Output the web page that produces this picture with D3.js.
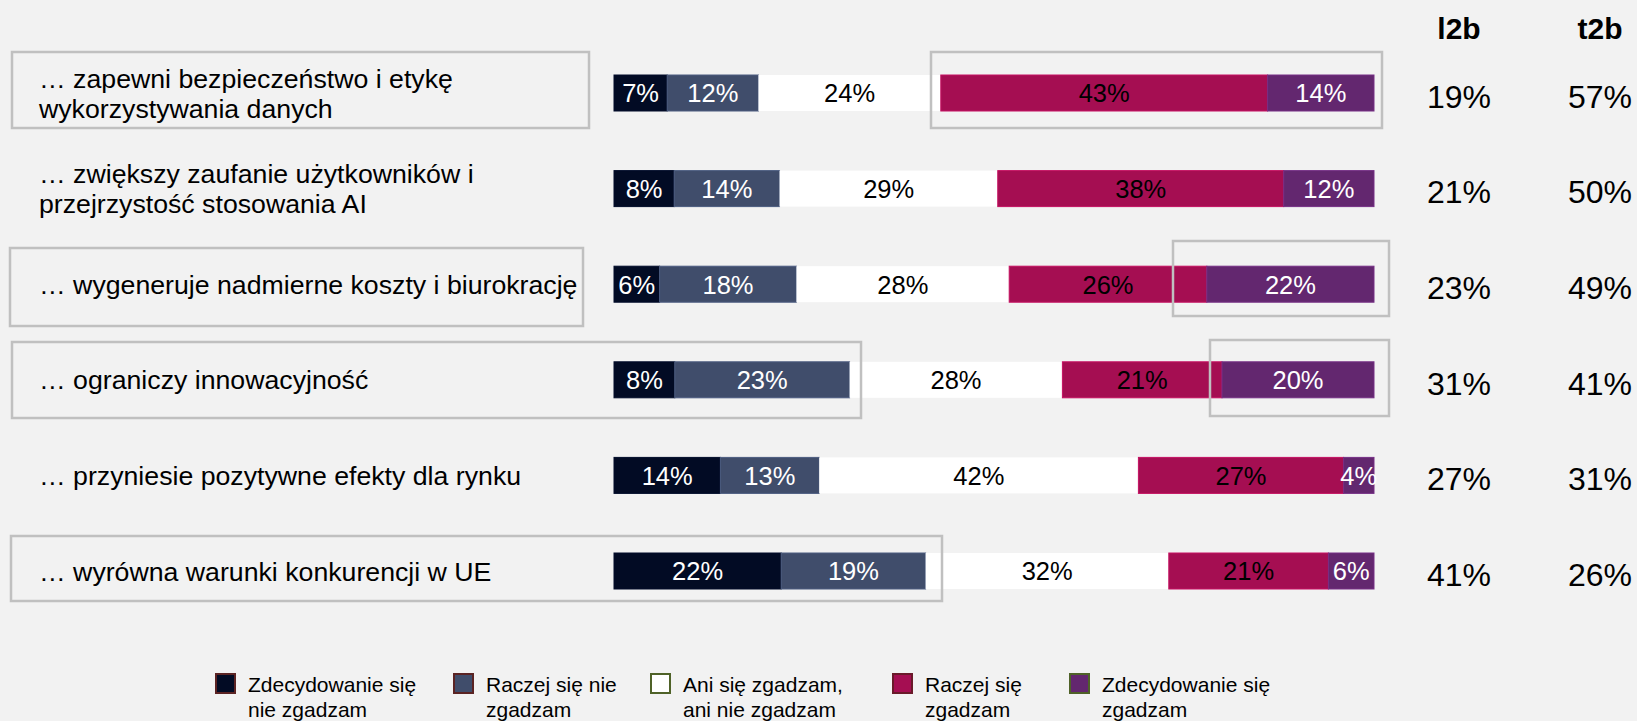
<!DOCTYPE html>
<html>
<head>
<meta charset="utf-8">
<script src="https://cdn.jsdelivr.net/npm/d3@7"></script>
<style>
  body { margin: 0; background: #f2f2f2; }
  svg { display: block; font-family: "Liberation Sans", Arial, sans-serif; }
</style>
</head>
<body>
<svg></svg>
<script>
// categories (each label split in lines)
var categories = [
    ['… zapewni bezpieczeństwo i etykę', 'wykorzystywania danych'],
    ['… zwiększy zaufanie użytkowników i', 'przejrzystość stosowania AI'],
    ['… wygeneruje nadmierne koszty i biurokrację'],
    ['… ograniczy innowacyjność'],
    ['… przyniesie pozytywne efekty dla rynku'],
    ['… wyrówna warunki konkurencji w UE']
];
var seriesNames = [
    ['Zdecydowanie się', 'nie zgadzam'],
    ['Raczej się nie', 'zgadzam'],
    ['Ani się zgadzam,', 'ani nie zgadzam'],
    ['Raczej się', 'zgadzam'],
    ['Zdecydowanie się', 'zgadzam']
];
var strongDisagree = [7, 8, 6, 8, 14, 22];
var ratherDisagree = [12, 14, 18, 23, 13, 19];
var neutral        = [24, 29, 28, 28, 42, 32];
var ratherAgree    = [43, 38, 26, 21, 27, 21];
var strongAgree    = [14, 12, 22, 20, 4, 6];
var l2b = [19, 21, 23, 31, 27, 41];
var t2b = [57, 50, 49, 41, 31, 26];

var colors = ['#020b24', '#404d6b', '#ffffff', '#a50e52', '#63276f'];
var textColors = ['#fff', '#fff', '#000', '#000', '#fff'];
var legendBorders = ['#5b2323', '#5b2323', '#4f6228', '#6a1a2a', '#4f6228'];

var W = 1637, H = 721;
var svg = d3.select('svg').attr('width', W).attr('height', H);

var series = [strongDisagree, ratherDisagree, neutral, ratherAgree, strongAgree];
var rows = categories.map(function (c, i) {
    var vals = series.map(function (s) { return s[i]; });
    var total = d3.sum(vals), acc = 0;
    return vals.map(function (v, k) {
        var seg = { row: i, k: k, v: v, x0: acc / total * 100, x1: (acc + v) / total * 100 };
        acc += v;
        return seg;
    });
});

var x = d3.scaleLinear().domain([0, 100]).range([614, 1374]);
var y = d3.scalePoint().domain(d3.range(categories.length)).range([93, 571]);
var barH = 36;

// bars
var rowG = svg.append('g').selectAll('g')
    .data(rows)
    .enter().append('g');

rowG.selectAll('rect')
    .data(function (d) { return d; })
    .enter().append('rect')
        .attr('x', function (d) { return x(d.x0); })
        .attr('y', function (d) { return y(d.row) - barH / 2; })
        .attr('width', function (d) { return x(d.x1) - x(d.x0); })
        .attr('height', barH)
        .attr('fill', function (d) { return colors[d.k]; })
        .attr('stroke', function (d) { return d.k === 2 ? 'none' : d3.color(colors[d.k]).brighter(0.5); })
        .attr('stroke-width', 1);

rowG.selectAll('text')
    .data(function (d) { return d; })
    .enter().append('text')
        .attr('x', function (d) { return x((d.x0 + d.x1) / 2); })
        .attr('y', function (d) { return y(d.row); })
        .attr('dy', '0.37em')
        .attr('text-anchor', 'middle')
        .attr('font-size', 25.5)
        .attr('fill', function (d) { return textColors[d.k]; })
        .text(function (d) { return d.v + '%'; });

// category labels
var labels = svg.append('g').selectAll('text')
    .data(categories)
    .enter().append('text')
        .attr('x', 39)
        .attr('y', function (d, i) { return y(i) - (d.length - 1) * 15; })
        .attr('font-size', 26.7)
        .attr('fill', '#000');
labels.selectAll('tspan')
    .data(function (d) { return d; })
    .enter().append('tspan')
        .attr('x', 39)
        .attr('dy', function (d, j) { return j === 0 ? '0.36em' : 30; })
        .text(function (d) { return d; });

// l2b / t2b columns
var cols = [{ name: 'l2b', vals: l2b, cx: 1459 }, { name: 't2b', vals: t2b, cx: 1600 }];
cols.forEach(function (c) {
    svg.append('text')
        .attr('x', c.cx).attr('y', 39)
        .attr('text-anchor', 'middle')
        .attr('font-size', 30).attr('font-weight', 'bold')
        .text(c.name);
    svg.append('g').selectAll('text')
        .data(c.vals)
        .enter().append('text')
            .attr('x', c.cx)
            .attr('y', function (d, i) { return y(i); })
            .attr('dy', '0.46em')
            .attr('text-anchor', 'middle')
            .attr('font-size', 32)
            .text(function (d) { return d + '%'; });
});

// highlight frames
var frames = [
    [12, 52, 589, 128],
    [931, 52, 1382, 128],
    [10, 248, 583, 326],
    [1173, 241, 1389, 316],
    [12, 342, 861, 418],
    [1210, 340, 1389, 416],
    [11, 536, 942, 601]
];
svg.append('g').selectAll('rect')
    .data(frames)
    .enter().append('rect')
        .attr('x', function (d) { return d[0]; })
        .attr('y', function (d) { return d[1]; })
        .attr('width', function (d) { return d[2] - d[0]; })
        .attr('height', function (d) { return d[3] - d[1]; })
        .attr('fill', 'none')
        .attr('stroke', '#c0c0c0')
        .attr('stroke-width', 2.5);

// legend
var legendX = [215, 453, 650, 892, 1069];
var leg = svg.append('g').selectAll('g')
    .data(seriesNames)
    .enter().append('g')
        .attr('transform', function (d, i) { return 'translate(' + legendX[i] + ',673)'; });
leg.append('rect')
    .attr('x', 1).attr('y', 1)
    .attr('width', 19).attr('height', 19)
    .attr('fill', function (d, i) { return colors[i]; })
    .attr('stroke', function (d, i) { return legendBorders[i]; })
    .attr('stroke-width', 2);
leg.append('text')
    .attr('font-size', 21)
    .selectAll('tspan')
    .data(function (d) { return d; })
    .enter().append('tspan')
        .attr('x', 33)
        .attr('y', function (d, j) { return 19 + j * 25; })
        .text(function (d) { return d; });
</script>
</body>
</html>
